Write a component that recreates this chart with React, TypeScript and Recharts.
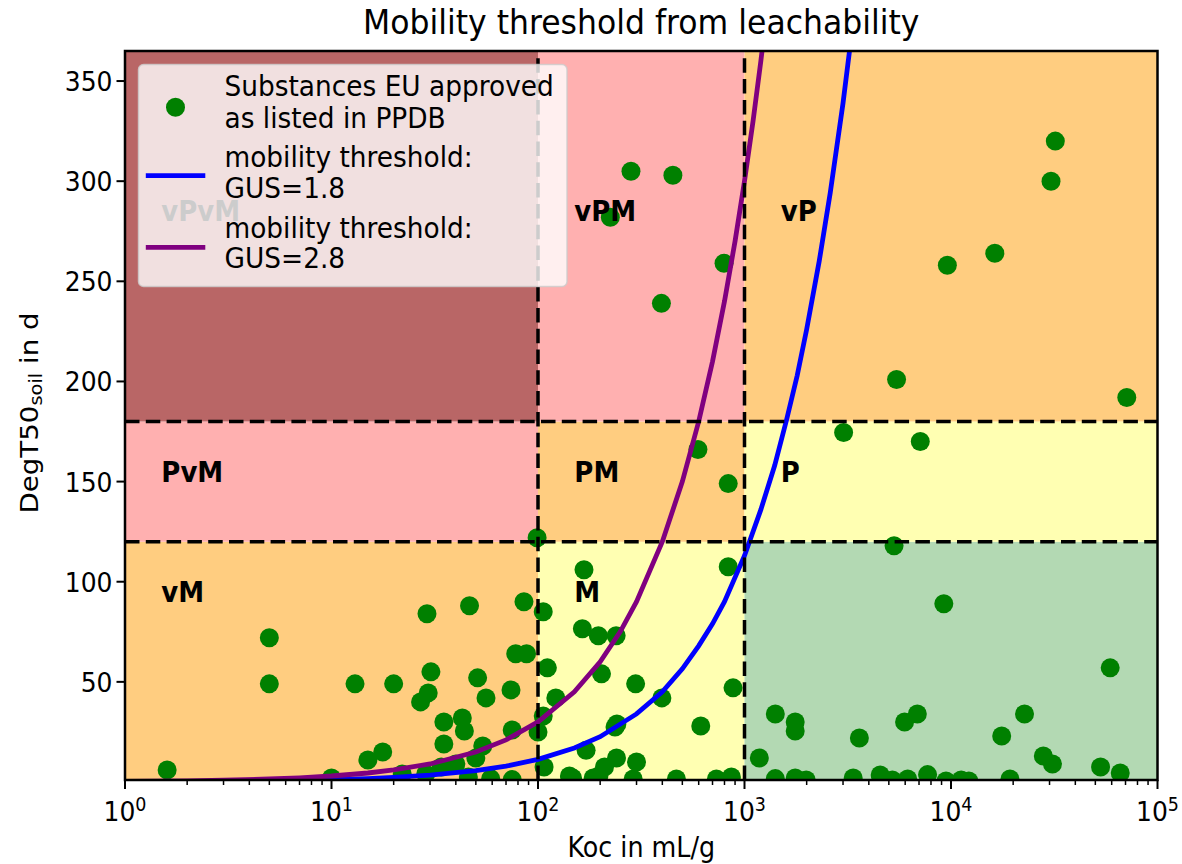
import React from 'react';
import { ComposedChart, XAxis, YAxis, Scatter, ReferenceArea, ReferenceLine } from 'recharts';

const FONT = '"DejaVu Sans", Verdana, sans-serif';
const STRETCH = 1.09;

// Substances (Koc in mL/g, DegT50 soil in d)
const substances: [number, number][] = [
  [1.6, 6], [5, 72], [5, 49], [10, 2], [13, 49], [15, 11], [17.7, 15], [20, 49], [22, 4],
  [27, 40], [28.6, 4], [29, 84], [29.4, 44.5], [30.3, 55], [34, 7.5], [35, 30], [35, 19],
  [40, 9], [43, 32], [44, 25.5], [46, 2.5], [46.6, 88], [50, 12], [51, 52], [54, 18], [56, 42],
  [59, 1.7], [74, 46], [75, 26], [75, 1.2], [78, 64], [85.5, 90], [88, 64],
  [99, 122], [100, 25], [106, 33], [106, 85], [107, 7.5], [111, 57],
  [122, 42], [142, 3], [147, 2], [164, 76.5], [167, 106], [171, 15.8], [185, 2], [196, 73],
  [197, 3], [203, 54], [210, 7.5], [236, 27.5], [239, 73], [240, 12], [241, 29], [289, 1.5],
  [297, 49], [300, 10], [398, 42], [468, 1.5], [614, 28], [731, 1.5], [834, 107.5], [864, 2.5],
  [880, 47],
  [595, 166], [834, 149],
  [224, 282], [282, 305], [396, 239], [450, 303], [796, 259],
  [5450, 201], [9600, 258], [16300, 264], [30500, 300], [32000, 320], [71000, 192],
  [3020, 174.5], [7100, 170],
  [1180, 12], [1410, 34], [1410, 1.7], [1760, 30], [1760, 25.5], [1760, 2], [1990, 1],
  [3360, 2], [3600, 22], [4540, 3.5], [5200, 1], [5300, 118], [5960, 30], [6170, 1.5],
  [6870, 34], [7700, 3.7], [9230, 89], [9460, 0.5], [11200, 1], [12200, 0.5], [17600, 23],
  [19300, 1.5], [22700, 34], [28000, 13], [31000, 9], [53000, 7.5], [59000, 57], [66000, 4.5],
];

// mobility threshold curves
const gus18Koc = [1, 2, 3, 5, 7, 10, 15, 20, 30, 50, 70, 100, 150, 200, 300, 400, 500, 600, 700, 800, 1000, 1200, 1400, 1600, 1800, 2000, 2300, 2600, 3000, 3400];
const gus18DT50 = [0.11, 0.23, 0.34, 0.57, 0.79, 1.13, 1.7, 2.26, 3.4, 5.65, 7.9, 11.3, 17, 22.6, 34, 45, 56.5, 68, 79, 90, 113, 136, 158, 181, 203, 226, 260, 294, 339, 384];
const gus28Koc = [1, 2, 3, 5, 7, 10, 15, 20, 30, 50, 70, 100, 150, 200, 250, 300, 400, 500, 600, 700, 800, 900, 1000, 1100, 1200, 1300];
const gus28DT50 = [0.3, 0.6, 0.9, 1.5, 2.1, 3, 4.5, 6, 9, 15, 21, 30, 45, 60, 75, 90, 120, 150, 180, 210, 240, 270, 300, 330, 360, 390];

// zones
const kocBounds = [1, 100, 1000, 100000];
const dt50Bounds = [1, 120, 180, 365];
// rows from bottom (vM row) to top (vP row); columns left to right
const zoneColors = [
  ['#ffcd80', '#ffffb2', '#b3d9b3'],
  ['#ffb0b0', '#ffcd80', '#ffffb2'],
  ['#b96666', '#ffb0b0', '#ffcd80'],
];
const zoneNames = ['vPvM', 'vPM', 'vP', 'PvM', 'PM', 'P', 'vM', 'M'];
const zoneLabelKoc = [1.5, 150, 1500, 1.5, 150, 1500, 1.5, 150];
const zoneLabelDT50 = [280, 280, 280, 150, 150, 150, 90, 90];

const yTicks = [50, 100, 150, 200, 250, 300, 350];
const xMajorTicks = [1, 10, 100, 1000, 10000, 100000];
const xMinorTicks = [
  2, 3, 4, 5, 6, 7, 8, 9,
  20, 30, 40, 50, 60, 70, 80, 90,
  200, 300, 400, 500, 600, 700, 800, 900,
  2000, 3000, 4000, 5000, 6000, 7000, 8000, 9000,
  20000, 30000, 40000, 50000, 60000, 70000, 80000, 90000,
];
const xExponents = ['0', '1', '2', '3', '4', '5'];

const W = 1182;
const H = 864;

const SText = (props: any) => {
  const { x, y, children, ...rest } = props;
  return (
    <text transform={`translate(${x},${y}) scale(1,${STRETCH})`} x={0} y={0} fontFamily={FONT} fill="#000" {...rest}>
      {children}
    </text>
  );
};

const XTick = (props: any) => {
  const { x, y, payload } = props;
  const idx = xMajorTicks.indexOf(payload.value);
  const major = idx >= 0;
  return (
    <g>
      <line x1={x} x2={x} y1={y} y2={y + (major ? 9 : 5)} stroke="#000" strokeWidth={major ? 2 : 1.5} />
      {major && (
        <SText x={x} y={y + 40.7} textAnchor="middle" fontSize={25}>
          10<tspan dy={-8.5} fontSize={17.5}>{xExponents[idx]}</tspan>
        </SText>
      )}
    </g>
  );
};

const YTick = (props: any) => {
  const { x, y, payload } = props;
  return (
    <g>
      <line x1={x - 8.5} x2={x} y1={y} y2={y} stroke="#000" strokeWidth={2} />
      <SText x={x - 12.5} y={y + 10} textAnchor="end" fontSize={25}>
        {payload.value}
      </SText>
    </g>
  );
};

const DotShape = (props: any) => {
  const { cx, cy } = props;
  if (cx == null || cy == null) return <g />;
  return <circle cx={cx} cy={cy} r={9.5} fill="#008000" />;
};

const EmptyShape = () => <g />;

const LabelShape = (props: any) => {
  const { cx, cy, payload } = props;
  if (cx == null || cy == null) return <g />;
  return (
    <SText x={cx} y={cy} fontSize={26} fontWeight="bold">
      {payload.name}
    </SText>
  );
};

export default function App() {
  const subData = substances.map(([koc, dt]) => ({ koc, dt }));
  const blueData = gus18Koc.map((koc, i) => ({ koc, dt: gus18DT50[i] }));
  const purpleData = gus28Koc.map((koc, i) => ({ koc, dt: gus28DT50[i] }));
  const labelData = zoneNames.map((name, i) => ({ koc: zoneLabelKoc[i], dt: zoneLabelDT50[i], name }));
  const zones: { x1: number; x2: number; y1: number; y2: number; fill: string }[] = [];
  for (let r = 0; r < 3; r++) {
    for (let c = 0; c < 3; c++) {
      zones.push({ x1: kocBounds[c], x2: kocBounds[c + 1], y1: dt50Bounds[r], y2: dt50Bounds[r + 1], fill: zoneColors[r][c] });
    }
  }
  const dash = '14.5 6.3';

  return (
    <div style={{ position: 'absolute', left: 0, top: 0, width: W, height: H, background: '#fff', overflow: 'hidden' }}>
      <ComposedChart width={W} height={H} margin={{ top: 51, right: 24.5, bottom: 0, left: 0 }}>
        <XAxis
          dataKey="koc"
          type="number"
          scale="log"
          domain={[1, 100000]}
          allowDataOverflow
          ticks={[...xMajorTicks, ...xMinorTicks]}
          interval={0}
          tick={<XTick />}
          tickLine={false}
          axisLine={false}
          tickSize={0}
          tickMargin={0}
          height={84}
        />
        <YAxis
          dataKey="dt"
          type="number"
          domain={[1, 365]}
          allowDataOverflow
          ticks={yTicks}
          interval={0}
          tick={<YTick />}
          tickLine={false}
          axisLine={false}
          tickSize={0}
          tickMargin={0}
          width={125}
        />
        {zones.map((z, i) => (
          <ReferenceArea
            key={'z' + i}
            x1={z.x1}
            x2={z.x2}
            y1={z.y1}
            y2={z.y2}
            fill={z.fill}
            fillOpacity={1}
            stroke="none"
            ifOverflow="hidden"
            zIndex={10}
          />
        ))}
        <Scatter data={subData} shape={DotShape} isAnimationActive={false} zIndex={600} />
        <Scatter
          data={blueData}
          line={{ stroke: '#0000ff', strokeWidth: 4.8 }}
          lineType="joint"
          shape={EmptyShape}
          isAnimationActive={false}
          zIndex={650}
        />
        <Scatter
          data={purpleData}
          line={{ stroke: '#800080', strokeWidth: 4.8 }}
          lineType="joint"
          shape={EmptyShape}
          isAnimationActive={false}
          zIndex={650}
        />
        <ReferenceLine x={100} stroke="#000" strokeWidth={3.5} strokeDasharray={dash} zIndex={700} />
        <ReferenceLine x={1000} stroke="#000" strokeWidth={3.5} strokeDasharray={dash} zIndex={700} />
        <ReferenceLine y={120} stroke="#000" strokeWidth={3.5} strokeDasharray={dash} zIndex={700} />
        <ReferenceLine y={180} stroke="#000" strokeWidth={3.5} strokeDasharray={dash} zIndex={700} />
        <Scatter data={labelData} shape={LabelShape} isAnimationActive={false} zIndex={800} />
        <ReferenceArea x1={1} x2={100000} y1={1} y2={365} fill="none" stroke="#000" strokeWidth={2.5} zIndex={900} />
      </ComposedChart>
      <svg
        width={W}
        height={H}
        style={{ position: 'absolute', left: 0, top: 0, pointerEvents: 'none' }}
      >
        <SText x={641.25} y={34.3} textAnchor="middle" fontSize={31.5}>
          Mobility threshold from leachability
        </SText>
        <SText x={641.25} y={856.7} textAnchor="middle" fontSize={25.4}>
          Koc in mL/g
        </SText>
        <text
          transform={`translate(37.5,413) rotate(-90) scale(${STRETCH},1)`}
          x={0}
          y={0}
          textAnchor="middle"
          fontSize={25.4}
          fontFamily={FONT}
          fill="#000"
        >
          DegT50<tspan dy={4} fontSize={17.8}>soil</tspan><tspan dy={-4}> in d</tspan>
        </text>
        <g>
          <rect
            x={138.5}
            y={64.5}
            width={428.5}
            height={222}
            rx={5}
            fill="#ffffff"
            fillOpacity={0.8}
            stroke="#cccccc"
            strokeOpacity={0.8}
            strokeWidth={1.5}
          />
          <circle cx={175.5} cy={107.3} r={9.5} fill="#008000" />
          <line x1={145.8} x2={205.3} y1={175.7} y2={175.7} stroke="#0000ff" strokeWidth={4.8} />
          <line x1={145.8} x2={205.3} y1={247.3} y2={247.3} stroke="#800080" strokeWidth={4.8} />
          <SText x={224.5} y={96} fontSize={26.4}>Substances EU approved</SText>
          <SText x={224.5} y={127.7} fontSize={26.4}>as listed in PPDB</SText>
          <SText x={224.5} y={166.7} fontSize={26.4}>mobility threshold:</SText>
          <SText x={224.5} y={197.7} fontSize={26.4}>GUS=1.8</SText>
          <SText x={224.5} y={238.3} fontSize={26.4}>mobility threshold:</SText>
          <SText x={224.5} y={268.3} fontSize={26.4}>GUS=2.8</SText>
        </g>
      </svg>
    </div>
  );
}
